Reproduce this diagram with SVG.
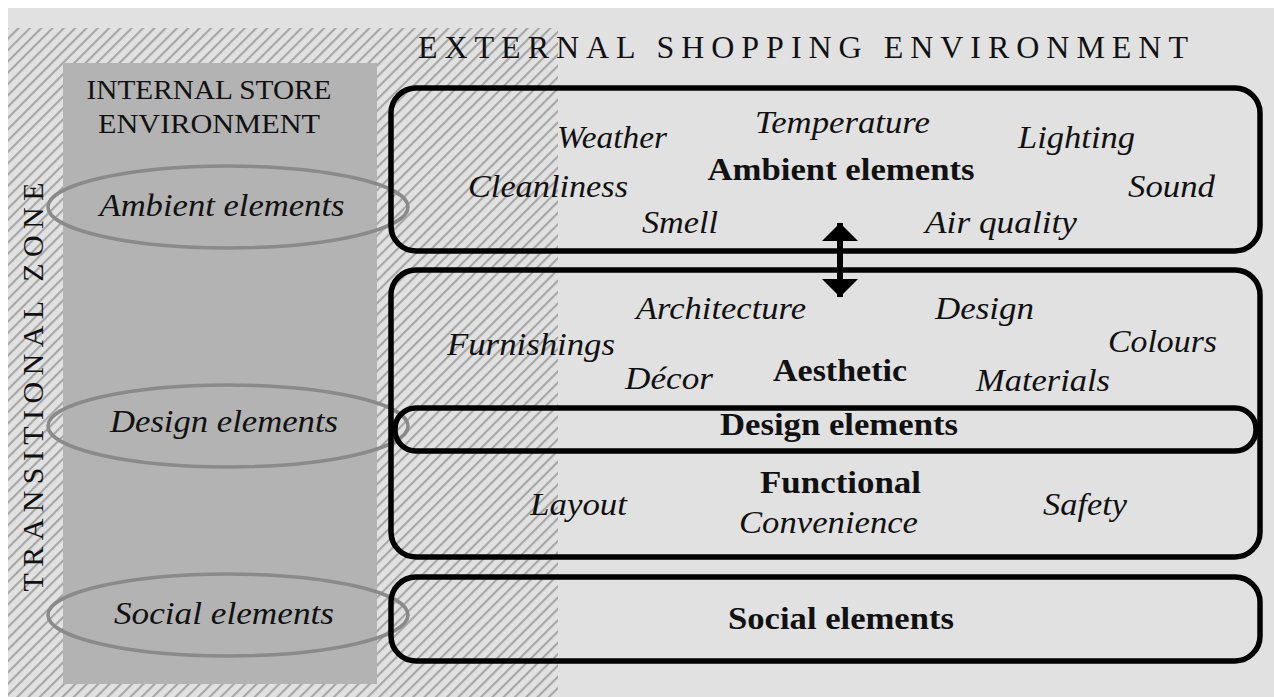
<svg xmlns="http://www.w3.org/2000/svg" width="1274" height="697" viewBox="0 0 1274 697" font-family="'Liberation Serif', 'Times New Roman', serif">
<defs>
<pattern id="hatch" patternUnits="userSpaceOnUse" width="8" height="8" patternTransform="rotate(45)">
<rect width="8" height="8" fill="#e1e1e1"/>
<line x1="1" y1="0" x2="1" y2="8" stroke="#a6a6a6" stroke-width="2.2"/>
</pattern>
<marker id="head" viewBox="0 0 18 36" markerUnits="userSpaceOnUse" markerWidth="18" markerHeight="36" refX="18" refY="18" orient="auto-start-reverse">
<path d="M0,0 L18,18 L0,36 z" fill="#000"/>
</marker>
</defs>
<style>
text{font-family:'Liberation Serif','Times New Roman',serif;fill:#111}
.it{font-style:italic;font-size:32px}
.b{font-weight:bold;font-size:32px}
.box{fill:none;stroke:#000;stroke-width:5.5}
.ell{fill:none;stroke:#8a8a8a;stroke-width:3.5}
</style>
<rect x="0" y="0" width="1274" height="697" fill="#ffffff"/>
<rect x="8" y="8" width="1266" height="689" fill="#e1e1e1"/>
<rect x="8" y="28" width="550" height="669" fill="url(#hatch)"/>

<g id="external-label">
<text x="418" y="58" font-size="32" textLength="770" lengthAdjust="spacing">EXTERNAL SHOPPING ENVIRONMENT</text>
</g>

<g id="transitional-zone">
<text transform="translate(43,387) rotate(-90)" x="0" y="0" text-anchor="middle" font-size="30" textLength="409" lengthAdjust="spacing">TRANSITIONAL ZONE</text>
</g>

<g id="internal-store">
<rect x="63" y="63" width="314" height="621" fill="#b3b3b3"/>
<text x="209" y="99" text-anchor="middle" font-size="27" textLength="245" lengthAdjust="spacingAndGlyphs">INTERNAL STORE</text>
<text x="209" y="133" text-anchor="middle" font-size="27" textLength="222" lengthAdjust="spacingAndGlyphs">ENVIRONMENT</text>
</g>

<g id="internal-ambient">
<ellipse class="ell" cx="228" cy="207" rx="180" ry="41"/>
<text x="222" y="216" text-anchor="middle" class="it" textLength="245" lengthAdjust="spacingAndGlyphs">Ambient elements</text>
</g>
<g id="internal-design">
<ellipse class="ell" cx="228" cy="426" rx="180" ry="41"/>
<text x="224" y="432" text-anchor="middle" class="it" textLength="228" lengthAdjust="spacingAndGlyphs">Design elements</text>
</g>
<g id="internal-social">
<ellipse class="ell" cx="228" cy="615" rx="180" ry="41"/>
<text x="224" y="624" text-anchor="middle" class="it" textLength="220" lengthAdjust="spacingAndGlyphs">Social elements</text>
</g>

<g id="ambient-box">
<rect class="box" x="391" y="88" width="869" height="163" rx="25"/>
<text x="841" y="180" text-anchor="middle" class="b" textLength="267" lengthAdjust="spacingAndGlyphs">Ambient elements</text>
<text x="557" y="148" class="it" textLength="110" lengthAdjust="spacingAndGlyphs">Weather</text>
<text x="755" y="133" class="it" textLength="175" lengthAdjust="spacingAndGlyphs">Temperature</text>
<text x="1018" y="148" class="it" textLength="117" lengthAdjust="spacingAndGlyphs">Lighting</text>
<text x="468" y="197" class="it" textLength="160" lengthAdjust="spacingAndGlyphs">Cleanliness</text>
<text x="1128" y="197" class="it" textLength="87" lengthAdjust="spacingAndGlyphs">Sound</text>
<text x="642" y="233" class="it" textLength="76" lengthAdjust="spacingAndGlyphs">Smell</text>
<text x="925" y="233" class="it" textLength="152" lengthAdjust="spacingAndGlyphs">Air quality</text>
</g>

<g id="design-box">
<rect class="box" x="391" y="270" width="869" height="287" rx="25"/>
<text x="636" y="319" class="it" textLength="170" lengthAdjust="spacingAndGlyphs">Architecture</text>
<text x="935" y="319" class="it" textLength="99" lengthAdjust="spacingAndGlyphs">Design</text>
<text x="447" y="355" class="it" textLength="168" lengthAdjust="spacingAndGlyphs">Furnishings</text>
<text x="1108" y="352" class="it" textLength="109" lengthAdjust="spacingAndGlyphs">Colours</text>
<text x="625" y="389" class="it" textLength="88" lengthAdjust="spacingAndGlyphs">Décor</text>
<text x="773" y="381" class="b" textLength="134" lengthAdjust="spacingAndGlyphs">Aesthetic</text>
<text x="976" y="391" class="it" textLength="134" lengthAdjust="spacingAndGlyphs">Materials</text>
<rect class="box" x="395" y="408" width="861" height="43" rx="21"/>
<text x="720" y="435" class="b" textLength="238" lengthAdjust="spacingAndGlyphs">Design elements</text>
<text x="760" y="493" class="b" textLength="161" lengthAdjust="spacingAndGlyphs">Functional</text>
<text x="530" y="515" class="it" textLength="97" lengthAdjust="spacingAndGlyphs">Layout</text>
<text x="739" y="533" class="it" textLength="179" lengthAdjust="spacingAndGlyphs">Convenience</text>
<text x="1043" y="515" class="it" textLength="84" lengthAdjust="spacingAndGlyphs">Safety</text>
</g>

<g id="social-box">
<rect class="box" x="391" y="577" width="869" height="84" rx="25"/>
<text x="728" y="629" class="b" textLength="226" lengthAdjust="spacingAndGlyphs">Social elements</text>
</g>

<g id="connectors">
<line x1="840" y1="223" x2="840" y2="297" stroke="#000" stroke-width="6" marker-start="url(#head)" marker-end="url(#head)"/>
</g>
</svg>
